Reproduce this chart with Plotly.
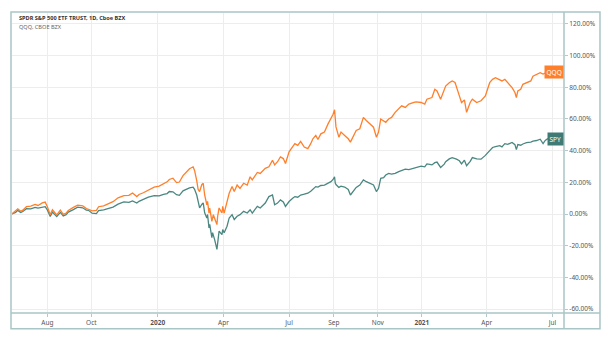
import plotly.graph_objects as go

# Daily-close comparison, % change from the first bar
dates = [
    "2019-06-13", "2019-06-18", "2019-06-21", "2019-06-25", "2019-06-28", "2019-07-03", "2019-07-09",
    "2019-07-15", "2019-07-19", "2019-07-25", "2019-07-29", "2019-08-01", "2019-08-05", "2019-08-08",
    "2019-08-12", "2019-08-14", "2019-08-19", "2019-08-23", "2019-08-27", "2019-08-30", "2019-09-06",
    "2019-09-12", "2019-09-19", "2019-09-24", "2019-09-27", "2019-10-02", "2019-10-08", "2019-10-11",
    "2019-10-18", "2019-10-25", "2019-10-31", "2019-11-07", "2019-11-15", "2019-11-22", "2019-11-27",
    "2019-12-03", "2019-12-06", "2019-12-12", "2019-12-19", "2019-12-27", "2020-01-03", "2020-01-09",
    "2020-01-14", "2020-01-17", "2020-01-22", "2020-01-27", "2020-01-31", "2020-02-05", "2020-02-10",
    "2020-02-14", "2020-02-19", "2020-02-21", "2020-02-24", "2020-02-26", "2020-02-28", "2020-03-02",
    "2020-03-04", "2020-03-06", "2020-03-09", "2020-03-10", "2020-03-12", "2020-03-13", "2020-03-16",
    "2020-03-17", "2020-03-18", "2020-03-20", "2020-03-23", "2020-03-24", "2020-03-26", "2020-03-30",
    "2020-03-31", "2020-04-02", "2020-04-06", "2020-04-09", "2020-04-13", "2020-04-16", "2020-04-20",
    "2020-04-24", "2020-04-29", "2020-05-04", "2020-05-08", "2020-05-11", "2020-05-18", "2020-05-22",
    "2020-05-29", "2020-06-03", "2020-06-08", "2020-06-11", "2020-06-15", "2020-06-19", "2020-06-23",
    "2020-06-26", "2020-07-01", "2020-07-06", "2020-07-09", "2020-07-13", "2020-07-17", "2020-07-22",
    "2020-07-27", "2020-07-31", "2020-08-03", "2020-08-07", "2020-08-10", "2020-08-14", "2020-08-19",
    "2020-08-24", "2020-08-28", "2020-08-31", "2020-09-02", "2020-09-03", "2020-09-04", "2020-09-08",
    "2020-09-11", "2020-09-16", "2020-09-21", "2020-09-24", "2020-09-30", "2020-10-02", "2020-10-07",
    "2020-10-12", "2020-10-16", "2020-10-21", "2020-10-26", "2020-10-30", "2020-11-02", "2020-11-05",
    "2020-11-09", "2020-11-12", "2020-11-16", "2020-11-20", "2020-11-25", "2020-11-30", "2020-12-04",
    "2020-12-09", "2020-12-14", "2020-12-21", "2020-12-24", "2020-12-31", "2021-01-05", "2021-01-08",
    "2021-01-12", "2021-01-15", "2021-01-19", "2021-01-22", "2021-01-27", "2021-02-01", "2021-02-03",
    "2021-02-08", "2021-02-12", "2021-02-16", "2021-02-18", "2021-02-22", "2021-02-25", "2021-03-01",
    "2021-03-04", "2021-03-09", "2021-03-12", "2021-03-18", "2021-03-24", "2021-03-30", "2021-04-05",
    "2021-04-09", "2021-04-13", "2021-04-19", "2021-04-22", "2021-04-26", "2021-04-30", "2021-05-06",
    "2021-05-10", "2021-05-12", "2021-05-14", "2021-05-18", "2021-05-21", "2021-05-26", "2021-06-01",
    "2021-06-04", "2021-06-09", "2021-06-14", "2021-06-18", "2021-06-21", "2021-06-24", "2021-06-25",
]

spy = [
    0.0, 1.0, 2.3, 1.0, 1.6, 3.4, 3.2,
    4.2, 3.7, 4.4, 4.6, 2.6, -1.5, 1.2,
    -0.4, -1.6, 1.0, -1.2, -0.4, 1.2, 2.8,
    4.3, 3.9, 2.4, 2.3, 0.5, 0.3, 2.2,
    2.6, 3.8, 4.4, 6.2, 7.6, 7.3, 8.3,
    6.9, 8.0, 9.2, 10.6, 11.6, 11.4, 12.4,
    12.9, 14.2, 14.0, 12.2, 11.8, 14.6, 15.8,
    16.5, 16.9, 15.6, 12.0, 7.2, 3.8, 6.0,
    7.0, 0.8, -2.6, -0.3, -8.8, -6.6, -15.0,
    -11.8, -13.2, -16.5, -22.3, -17.0, -10.8, -13.0,
    -9.8, -11.9, -7.7, -2.5, -0.4, -3.5, -1.4,
    -0.4, 1.7, 0.6, 2.7, 0.6, 4.8, 3.8,
    6.9, 11.0, 12.0, 5.8, 6.9, 8.9, 7.6,
    4.8, 7.9, 10.0, 11.0, 10.6, 12.0, 12.5,
    13.1, 14.4, 15.4, 17.3, 17.0, 18.0, 18.3,
    19.6, 20.4, 21.8, 23.5, 19.5, 18.6, 16.8,
    17.6, 17.0, 15.5, 12.0, 16.2, 16.8, 18.3,
    21.5, 20.4, 19.6, 18.3, 14.2, 16.2, 22.5,
    23.0, 24.6, 25.6, 25.2, 25.6, 26.8, 27.7,
    28.3, 28.0, 29.0, 29.5, 30.2, 29.8, 31.6,
    31.4, 31.0, 32.4, 32.8, 29.4, 31.5, 33.0,
    34.8, 35.6, 35.2, 34.6, 33.6, 31.6, 34.0,
    30.5, 33.2, 35.6, 34.8, 34.6, 37.0, 40.0,
    42.0, 42.6, 43.2, 42.4, 44.4, 44.0, 45.2,
    43.8, 40.6, 43.8, 43.4, 44.2, 45.0, 45.4,
    46.0, 46.4, 47.2, 44.4, 46.5, 47.4, 47.6,
]

qqq = [
    0.0, 1.8, 3.3, 1.7, 2.4, 4.6, 5.0,
    6.0, 5.4, 7.0, 7.5, 4.6, -0.4, 2.7,
    0.9, -0.6, 2.4, -0.2, 0.6, 2.2, 4.2,
    5.6, 5.2, 3.4, 3.0, 2.0, 2.3, 4.6,
    5.2, 6.4, 7.8, 10.2, 11.6, 11.8, 13.3,
    11.0, 12.3, 13.4, 15.0, 17.0, 17.6, 19.2,
    20.3, 21.8, 22.6, 19.8, 20.2, 24.2, 26.6,
    28.6, 29.8, 27.5, 21.0, 15.4, 14.2, 18.5,
    19.4, 12.0, 5.8, 8.0, 0.6, 3.8, -4.6,
    -1.0, -0.4, -3.0, -6.7, -1.4, 3.8, 0.6,
    4.8, 0.6, 6.9, 13.1, 17.3, 14.2, 18.3,
    16.2, 19.4, 18.2, 23.5, 21.5, 26.2, 25.6,
    28.8, 29.8, 33.9, 31.0, 33.0, 36.0, 35.0,
    31.9, 39.2, 42.3, 44.4, 43.3, 45.8, 42.3,
    41.3, 44.4, 47.5, 49.6, 47.0, 50.6, 51.7,
    56.9, 60.0, 63.0, 65.8, 60.0, 55.0, 48.5,
    51.7, 49.6, 47.5, 45.4, 50.6, 52.7, 53.8,
    61.0, 59.0, 56.9, 54.8, 48.5, 51.7, 60.0,
    59.0, 57.9, 60.0, 61.0, 64.2, 66.2, 68.3,
    67.3, 69.4, 70.4, 70.8, 70.4, 69.4, 72.5,
    72.9, 73.5, 78.7, 77.7, 72.5, 78.7, 80.8,
    82.9, 84.0, 83.0, 79.8, 74.6, 70.4, 72.0,
    64.2, 70.4, 72.5, 70.4, 71.5, 74.6, 82.9,
    85.0, 86.0, 85.0, 84.0, 85.0, 82.9, 79.8,
    76.7, 73.5, 77.7, 78.7, 81.9, 82.9, 84.0,
    87.0, 88.0, 89.2, 88.4, 88.8, 89.4, 89.8,
]

x_tick_dates = ["2019-08-01", "2019-10-01", "2020-01-01", "2020-04-01", "2020-07-01",
                "2020-09-01", "2020-11-01", "2021-01-01", "2021-04-01", "2021-07-01"]
x_tick_text = ["Aug", "Oct", "<b>2020</b>", "Apr", "Jul", "Sep", "Nov", "<b>2021</b>", "Apr", "Jul"]

y_tick_vals = [120, 100, 80, 60, 40, 20, 0, -20, -40, -60]
y_tick_text = ["%.2f%%" % v for v in y_tick_vals]

QQQ_COLOR = "#ff7f2a"
SPY_COLOR = "#4a8781"
FRAME = "#a9c6c6"
FONT = "Noto Sans"

fig = go.Figure()
fig.add_trace(go.Scatter(x=dates, y=spy, mode="lines", name="SPY",
                         line=dict(color=SPY_COLOR, width=1.3)))
fig.add_trace(go.Scatter(x=dates, y=qqq, mode="lines", name="QQQ",
                         line=dict(color=QQQ_COLOR, width=1.3)))

# Ticker tags pinned to the right edge at each series' last value
fig.add_annotation(x=1, xref="paper", xanchor="right", y=qqq[-1], yref="y",
                   text="QQQ", showarrow=False, bgcolor=QQQ_COLOR,
                   font=dict(family=FONT, size=6.5, color="white"), borderpad=1.5)
fig.add_annotation(x=1, xref="paper", xanchor="right", y=spy[-1], yref="y",
                   text="SPY", showarrow=False, bgcolor="#3f7a74",
                   font=dict(family=FONT, size=6.5, color="white"), borderpad=1.5)

# Legend-style header lines
fig.add_annotation(x=0.009, xref="paper", xanchor="left", y=0.985, yref="paper", yanchor="middle",
                   text="<b>SPDR S&P 500 ETF TRUST, 1D, Cboe BZX</b>", showarrow=False,
                   font=dict(family=FONT, size=5.6, color="#333333"))
fig.add_annotation(x=0.009, xref="paper", xanchor="left", y=0.955, yref="paper", yanchor="middle",
                   text="QQQ, CBOE BZX", showarrow=False,
                   font=dict(family=FONT, size=5.6, color="#666666"))

# Outer frame and the axis separators
x_left, x_right, y_bot, y_top = -0.0018, 1.0652, -0.0528, 1.0033
fig.add_shape(type="rect", xref="paper", yref="paper", x0=x_left, x1=x_right, y0=y_bot, y1=y_top,
              line=dict(color=FRAME, width=1.5), layer="above")
fig.add_shape(type="line", xref="paper", yref="paper", x0=1, x1=1, y0=y_bot, y1=y_top,
              line=dict(color=FRAME, width=1.5), layer="above")
fig.add_shape(type="line", xref="paper", yref="paper", x0=x_left, x1=x_right, y0=0, y1=0,
              line=dict(color=FRAME, width=1.5), layer="above")

fig.update_layout(
    width=608, height=339,
    margin=dict(l=12, r=44, t=13, b=23),
    paper_bgcolor="white", plot_bgcolor="white",
    showlegend=False,
    xaxis=dict(type="date", range=["2019-06-13", "2021-07-17"],
               tickmode="array", tickvals=x_tick_dates, ticktext=x_tick_text,
               showgrid=True, gridcolor="#ededed", gridwidth=1, zeroline=False,
               ticks="outside", ticklen=3, tickcolor="#b5c9c9",
               tickfont=dict(family=FONT, size=6.5, color="#555555")),
    yaxis=dict(side="right", range=[-62.5, 126.9],
               tickmode="array", tickvals=y_tick_vals, ticktext=y_tick_text,
               showgrid=True, gridcolor="#ededed", gridwidth=1, zeroline=False,
               ticks="outside", ticklen=3, tickcolor="#b5c9c9",
               tickfont=dict(family=FONT, size=6.5, color="#555555")),
)

fig.write_html("out.html")
